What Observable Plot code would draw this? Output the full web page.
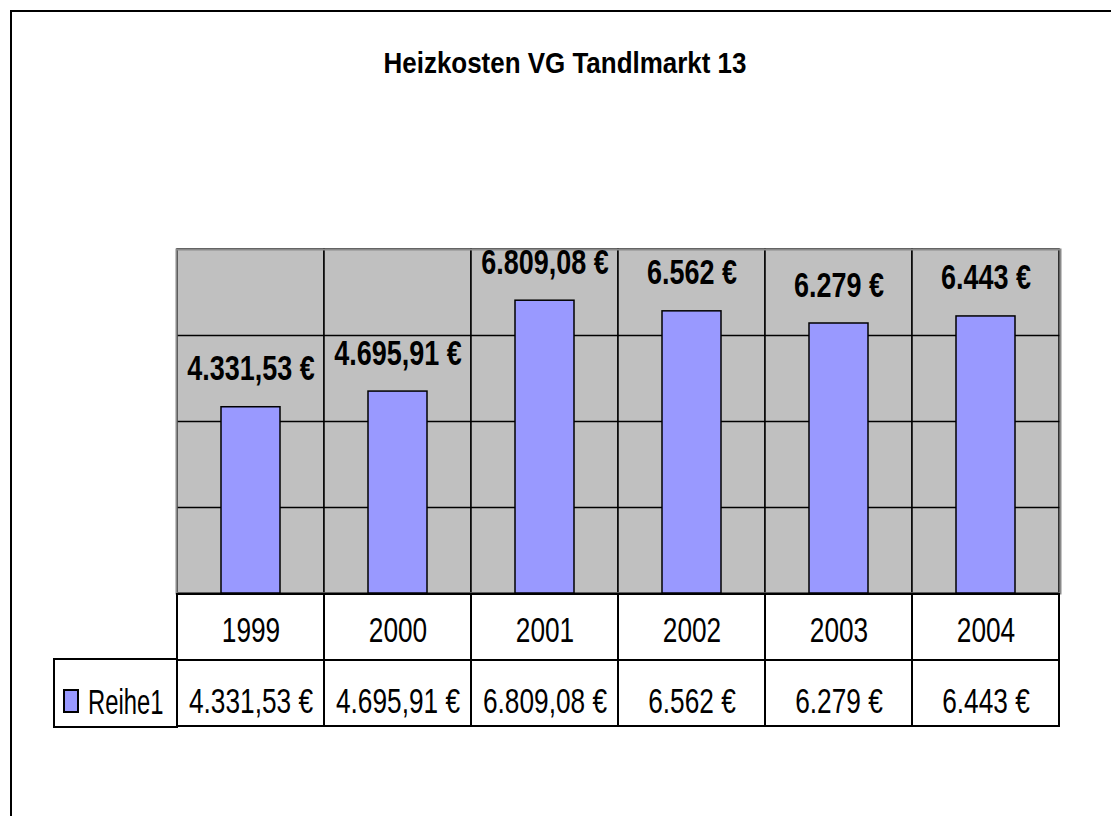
<!DOCTYPE html>
<html><head><meta charset="utf-8">
<script src="https://cdn.jsdelivr.net/npm/d3@7"></script>
<script src="https://cdn.jsdelivr.net/npm/@observablehq/plot@0.6"></script>
<style>
html,body{margin:0;padding:0;background:#fff;overflow:hidden;}
#wrap{position:relative;width:1111px;height:816px;overflow:hidden;font-family:"Liberation Sans",Arial,sans-serif;}
#border{position:absolute;left:10px;top:10px;width:1300px;height:1000px;border:2px solid #000;}
#title{position:absolute;left:0;top:48px;width:1130px;text-align:center;font-weight:bold;font-size:30px;line-height:30px;transform:scaleX(0.865);transform-origin:565px 0;}
.abs{position:absolute;left:0;}
#legend{position:absolute;left:53px;top:658px;width:121px;height:66px;border:2px solid #000;background:#fff;}
#swatch{position:absolute;left:8px;top:29px;width:12px;height:20px;background:#9999ff;border:2px solid #000;}
#legtext{position:absolute;left:33px;top:24px;font-size:35px;line-height:35px;transform:scaleX(0.68);transform-origin:0 0;white-space:nowrap;}
</style></head>
<body>
<div id="wrap">
  <div id="border"></div>
  <div id="title"></div>
  <div id="chart" class="abs" style="top:0"></div>
  <div id="table" class="abs" style="top:591px"></div>
  <div id="legend"><div id="swatch"></div><div id="legtext"></div></div>
</div>
<script>
const chartTitle = "Heizkosten VG Tandlmarkt 13";
const years = ["1999", "2000", "2001", "2002", "2003", "2004"];
const costs = [4331.53, 4695.91, 6809.08, 6562, 6279, 6443];
const seriesName = "Reihe1";
const yTicks = [0, 2000, 4000, 6000, 8000];
const rowNames = ["Jahr", seriesName];

const data = years.map((y, i) => ({year: y, cost: costs[i]}));
const fmt = new Intl.NumberFormat("de-DE", {minimumFractionDigits: 0, maximumFractionDigits: 2});
const label = v => fmt.format(v) + " €";
const font = '"Liberation Sans",Arial,sans-serif';

document.getElementById("title").textContent = chartTitle;
document.getElementById("legtext").textContent = seriesName;

// narrow the glyphs horizontally (the reference uses a condensed face)
function squeeze(svg, k) {
  svg.querySelectorAll("text").forEach(t => {
    const tr = t.getAttribute("transform") || "";
    t.setAttribute("transform", tr + ` scale(${k},1)`);
  });
}

const chart = Plot.plot({
  width: 1111, height: 816,
  marginLeft: 176, marginRight: 51, marginTop: 249, marginBottom: 223,
  x: {domain: years, padding: 0, axis: null},
  y: {domain: [yTicks[0], yTicks[yTicks.length - 1]], axis: null},
  style: {background: "transparent", fontFamily: font, color: "#000", overflow: "visible"},
  marks: [
    Plot.cell(years, {x: d => d, fill: "#c0c0c0", stroke: "#000", strokeWidth: 1.5, inset: 0}),
    Plot.ruleY(yTicks.slice(1, -1), {stroke: "#000", strokeWidth: 1.5}),
    Plot.frame({stroke: "#8a8a8a", strokeWidth: 2}),
    Plot.barY(data, {x: "year", y: "cost", fill: "#9999ff", stroke: "#000", strokeWidth: 1.5, insetLeft: 44, insetRight: 44}),
    Plot.text(data, {x: "year", y: "cost", text: d => label(d.cost), lineAnchor: "bottom", dy: -27, fontWeight: "bold", fontSize: 35, fill: "#000"})
  ]
});
squeeze(chart, 0.77);
document.getElementById("chart").appendChild(chart);

const table = Plot.plot({
  width: 1111, height: 137,
  marginLeft: 176, marginRight: 51, marginTop: 2, marginBottom: 2,
  x: {domain: years, padding: 0, axis: null},
  y: {domain: rowNames, padding: 0, axis: null},
  style: {background: "transparent", fontFamily: font, color: "#000", overflow: "visible"},
  marks: [
    Plot.cell(data, {x: "year", y: () => rowNames[0], fill: "#fff", stroke: "#000", strokeWidth: 2, inset: 0}),
    Plot.cell(data, {x: "year", y: () => rowNames[1], fill: "#fff", stroke: "#000", strokeWidth: 2, inset: 0}),
    Plot.text(data, {x: "year", y: () => rowNames[0], text: "year", fontSize: 35, dy: 3, fill: "#000"}),
    Plot.text(data, {x: "year", y: () => rowNames[1], text: d => label(d.cost), fontSize: 35, dy: 8, fill: "#000"})
  ]
});
squeeze(table, 0.75);
document.getElementById("table").appendChild(table);
</script>
</body></html>
